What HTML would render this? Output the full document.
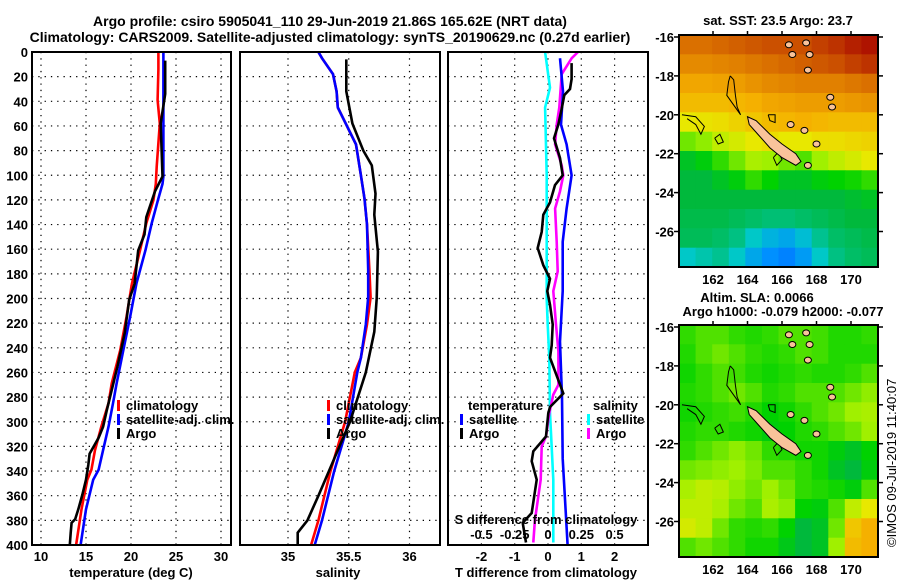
<!DOCTYPE html>
<html><head><meta charset="utf-8">
<style>
html,body{margin:0;padding:0;background:#fff;}
svg{display:block;font-family:"Liberation Sans",sans-serif;font-weight:bold;}
text{font-size:13px;fill:#000;}
</style></head>
<body>
<svg id="chart" width="900" height="580" viewBox="0 0 900 580" xmlns="http://www.w3.org/2000/svg">
<text x="330" y="26" text-anchor="middle" style="font-size:14px">Argo profile: csiro 5905041_110 29-Jun-2019 21.86S 165.62E (NRT data)</text>
<text x="330" y="42" text-anchor="middle" style="font-size:14px">Climatology: CARS2009. Satellite-adjusted climatology: synTS_20190629.nc (0.27d earlier)</text>
<text x="778" y="25" text-anchor="middle">sat. SST: 23.5 Argo: 23.7</text>
<text x="757" y="302" text-anchor="middle">Altim. SLA: 0.0066</text>
<text x="783" y="316" text-anchor="middle">Argo h1000: -0.079 h2000: -0.077</text>
<text transform="translate(896,547) rotate(-90)" style="font-weight:normal;font-size:13px">©IMOS 09-Jul-2019 11:40:07</text>
<g id="plots"></g>
</svg>
<script>
// depth grid shared by profiles (m)
const tDepths = [0,14,39,58,93,101,107,120,139,161,188,215,242,269,285,304,323,339,347,371,400];
const tClim   = [23.04,23.04,22.96,23.2,22.86,22.8,22.75,22.5,21.7,21.0,20.1,19.5,18.8,17.85,17.5,16.7,16.0,15.6,15.15,14.5,13.9];
const tSat    = [23.6,23.6,23.6,23.6,23.6,23.6,23.5,23.0,22.3,21.6,20.6,19.9,19.15,18.4,18.0,17.5,16.9,16.4,15.8,15.0,14.4];
const argoTDepths = [7,34,58,101,113,134,148,161,188,201,228,255,291,304,313,326,335,347,359,371,379,382,390,400];
const argoT       = [23.8,23.8,23.3,23.5,22.67,21.7,21.5,20.8,20.4,19.8,19.3,18.5,17.3,16.9,16.4,15.4,15.25,15.0,14.6,14.15,13.8,13.4,13.3,13.2];

const sDepths = [0,5,18,32,45,59,75,100,119,140,177,199,221,248,260,300,340,360,380,400];
const sClim   = [35.25,35.28,35.37,35.40,35.41,35.48,35.56,35.60,35.63,35.65,35.67,35.68,35.65,35.60,35.55,35.47,35.35,35.30,35.25,35.19];
const sSat    = [35.25,35.28,35.37,35.40,35.41,35.48,35.56,35.60,35.63,35.65,35.66,35.66,35.64,35.60,35.57,35.50,35.38,35.33,35.28,35.22];
const argoSDepths = [6,32,58,80,92,115,132,162,200,227,246,260,300,330,360,380,390,400];
const argoS       = [35.48,35.48,35.53,35.62,35.69,35.72,35.71,35.74,35.73,35.71,35.67,35.64,35.51,35.38,35.25,35.16,35.08,35.08];

const dTDepths = [5,32,59,75,100,127,154,194,235,280,330,400];
const dTSat    = [0.36,0.45,0.39,0.56,0.71,0.56,0.44,0.44,0.36,0.42,0.44,0.59];
const dTArgoDepths = [9,22,30,35,46,59,70,86,100,108,122,132,146,159,173,184,194,205,221,238,248,277,288,293,312,324,332,347,374,382,398];
const dTArgo = [0.71,0.71,0.66,0.49,0.41,0.31,0.18,0.36,0.44,0.21,0.06,-0.14,-0.19,-0.31,-0.14,0.06,-0.02,0.06,0.14,0.11,0.06,0.46,0.06,0.01,-0.06,-0.44,-0.49,-0.34,-0.49,-0.76,-0.66];
const dSDepths = [0,29,45,100,200,221,248,293,347,398];
const dSSat    = [-0.022,0.015,-0.022,-0.01,-0.01,-0.002,0.01,0.015,0.04,0.04];
const dSArgoDepths = [0,5,18,45,59,75,92,100,113,127,154,178,194,221,243,270,278,293,312,320,347,380,398];
const dSArgo = [0.225,0.178,0.103,0.085,0.065,0.053,0.103,0.115,0.09,0.053,0.065,0.073,0.04,0.06,0.078,0.078,0.04,0.01,-0.015,-0.047,-0.055,-0.098,-0.11];

const depthTicks = [0,20,40,60,80,100,120,140,160,180,200,220,240,260,280,300,320,340,360,380,400];
const tTicks = [10,15,20,25,30];
const sTicks = [35,35.5,36];
const dTTicks = [-2,-1,0,1,2];
const dSTickLabels = ['-0.5','-0.25','0','0.25','0.5'];
const dSTickValues = [-0.5,-0.25,0,0.25,0.5];
const latTicks = [-16,-18,-20,-22,-24,-26];
const lonTicks = [162,164,166,168,170];

// SST map (normalised colour value), rows from -16 southward, cols 160..171.5
const sstGrid = [
[.84,.84,.85,.86,.87,.88,.88,.88,.90,.92,.95,.97],
[.80,.80,.81,.82,.83,.84,.85,.86,.87,.88,.90,.92],
[.74,.74,.75,.76,.78,.80,.81,.82,.82,.82,.83,.84],
[.70,.70,.70,.71,.72,.74,.75,.76,.76,.76,.77,.78],
[.62,.63,.64,.66,.68,.70,.71,.72,.71,.70,.70,.70],
[.52,.54,.58,.60,.62,.64,.62,.62,.64,.64,.65,.66],
[.42,.44,.48,.52,.56,.55,.52,.50,.55,.58,.60,.62],
[.40,.40,.42,.44,.48,.45,.42,.42,.44,.45,.46,.48],
[.40,.40,.40,.40,.40,.40,.40,.40,.40,.40,.41,.42],
[.39,.39,.39,.38,.37,.36,.36,.37,.38,.39,.40,.40],
[.38,.38,.37,.35,.30,.26,.24,.28,.34,.37,.38,.39],
[.30,.32,.34,.30,.24,.20,.18,.22,.30,.35,.37,.38]];
const slaGrid = [
[.48,.50,.50,.48,.47,.48,.50,.50,.49,.47,.47,.48],
[.47,.50,.52,.50,.48,.47,.48,.50,.49,.47,.47,.47],
[.46,.48,.50,.49,.47,.46,.47,.48,.47,.47,.48,.50],
[.47,.48,.50,.52,.50,.47,.48,.50,.50,.50,.52,.54],
[.46,.47,.48,.49,.47,.45,.46,.48,.50,.52,.55,.56],
[.47,.48,.48,.47,.46,.44,.45,.47,.48,.50,.52,.55],
[.48,.50,.52,.54,.52,.48,.47,.46,.46,.44,.42,.45],
[.52,.53,.54,.55,.53,.50,.50,.48,.46,.42,.40,.44],
[.56,.58,.57,.54,.52,.55,.52,.48,.47,.46,.44,.50],
[.58,.58,.56,.52,.50,.56,.54,.45,.44,.50,.58,.62],
[.60,.58,.52,.48,.47,.48,.45,.40,.42,.52,.68,.72],
[.50,.52,.50,.48,.46,.46,.43,.40,.42,.55,.70,.72]];
const newCaledonia = [[164.0,-20.1],[164.5,-20.3],[165.3,-21.0],[166.0,-21.5],[166.8,-22.0],[167.1,-22.4],[166.8,-22.6],[166.0,-22.2],[165.3,-21.7],[164.6,-21.0],[164.1,-20.5]];
const islands = [[166.4,-16.4],[166.6,-16.9],[167.4,-16.3],[167.6,-16.9],[167.5,-17.7],[168.8,-19.1],[168.9,-19.6],[167.3,-20.8],[168.0,-21.5],[166.5,-20.5],[167.5,-22.6]];
const reefOutlines = [
 [[163.0,-18.0],[163.2,-18.2],[163.3,-19.0],[163.4,-19.6],[163.6,-20.0],[163.2,-19.5],[162.8,-19.0],[162.9,-18.3],[163.0,-18.0]],
 [[160.2,-20.0],[161.0,-20.1],[161.5,-20.6],[161.3,-21.0],[161.0,-20.5],[160.5,-20.2]],
 [[162.1,-21.2],[162.4,-21.0],[162.6,-21.4],[162.3,-21.5],[162.1,-21.2]],
 [[165.2,-20.0],[165.6,-20.0],[165.6,-20.4],[165.3,-20.3],[165.2,-20.0]],
 [[165.5,-22.2],[165.8,-21.9],[166.0,-22.3],[165.7,-22.6],[165.5,-22.2]]];

const NS='http://www.w3.org/2000/svg';
const root=document.getElementById('plots');
function el(tag,attrs,parent){const e=document.createElementNS(NS,tag);for(const k in attrs)e.setAttribute(k,attrs[k]);(parent||root).appendChild(e);return e;}
function txt(x,y,s,anchor,parent,size){const t=el('text',{x:x,y:y,'text-anchor':anchor||'middle'},parent);if(size)t.style.fontSize=size+'px';t.textContent=s;return t;}

const TOP=52,BOT=545;
const yD=d=>TOP+d*(BOT-TOP)/400;
const panels=[
 {name:'temperature',x0:32,x1:231,sx:v=>41+(v-10)*9},
 {name:'salinity',x0:240,x1:440,sx:v=>288+(v-35)*121.5},
 {name:'difference',x0:448,x1:648,sx:v=>548+v*33.3}];
const sxS=v=>548+v*133.2;

function frame(p){
  const g=el('g',{});
  
  
  depthTicks.forEach(d=>{const l=el('line',{x1:p.x0,x2:p.x1,y1:yD(d),y2:yD(d),stroke:'#000','stroke-width':1.2,'stroke-dasharray':'1.3,5'},g);
    });
  return g;
}
function vgrid(g,p,vals,sx){vals.forEach(v=>{const l=el('line',{x1:sx(v),x2:sx(v),y1:TOP,y2:BOT,stroke:'#000','stroke-width':1.2,'stroke-dasharray':'1.3,5'},g);
  });}
function border(g,p){const r=el('rect',{x:p.x0,y:TOP,width:p.x1-p.x0,height:BOT-TOP,fill:'none',stroke:'#000','stroke-width':2},g);
  }
function line(g,depths,vals,sx,color,name){
  const pts=vals.map((v,i)=>sx(v).toFixed(1)+','+yD(depths[i]).toFixed(1)).join(' ');
  const pl=el('polyline',{points:pts,fill:'none',stroke:color,'stroke-width':2.6},g);
  }
function legend(g,x,y,color,label){
  const b=el('rect',{x:x,y:y-10,width:3,height:11,fill:color},g);
  
  const t=txt(x+9,y,label,'start',g);
  }

// Panel 1
let p=panels[0],g=frame(p);
vgrid(g,p,tTicks,p.sx);
line(g,tDepths,tClim,p.sx,'#f00','temperature-climatology-line');
line(g,tDepths,tSat,p.sx,'#00f','temperature-satellite-line');
line(g,argoTDepths,argoT,p.sx,'#000','temperature-argo-line');
border(g,p);
depthTicks.forEach(d=>{const t=txt(28,yD(d)+5,String(d),'end',g);});
tTicks.forEach(v=>{const t=txt(p.sx(v),561,String(v),'middle',g);});
let at=txt(131,577,'temperature (deg C)','middle',g);
legend(g,117,410,'#f00','climatology');legend(g,117,424,'#00f','satellite-adj. clim.');legend(g,117,438,'#000','Argo');

// Panel 2
p=panels[1];g=frame(p);
vgrid(g,p,sTicks,p.sx);
line(g,sDepths,sClim,p.sx,'#f00','salinity-climatology-line');
line(g,sDepths,sSat,p.sx,'#00f','salinity-satellite-line');
line(g,argoSDepths,argoS,p.sx,'#000','salinity-argo-line');
border(g,p);
sTicks.forEach(v=>{const t=txt(p.sx(v),561,String(v),'middle',g);});
at=txt(338,577,'salinity','middle',g);
legend(g,327,410,'#f00','climatology');legend(g,327,424,'#00f','satellite-adj. clim.');legend(g,327,438,'#000','Argo');

// Panel 3
p=panels[2];g=frame(p);
vgrid(g,p,dTTicks,p.sx);
line(g,dSDepths,dSSat,sxS,'#0ff','salinity-diff-satellite-line');
line(g,dSArgoDepths,dSArgo,sxS,'#f0f','salinity-diff-argo-line');
line(g,dTDepths,dTSat,p.sx,'#00f','temperature-diff-satellite-line');
line(g,dTArgoDepths,dTArgo,p.sx,'#000','temperature-diff-argo-line');
border(g,p);
dTTicks.forEach(v=>{const t=txt(p.sx(v),561,String(v),'middle',g);});
dSTickValues.forEach((v,i)=>{const t=txt(sxS(v),539,dSTickLabels[i],'middle',g);});
at=txt(546,524,'S difference from climatology','middle',g);
at=txt(546,577,'T difference from climatology','middle',g);
at=txt(468,410,'temperature','start',g);
at=txt(593,410,'salinity','start',g);
legend(g,460,424,'#00f','satellite');legend(g,460,438,'#000','Argo');
legend(g,587,424,'#0ff','satellite');legend(g,587,438,'#f0f','Argo');

// colormap
const stops=[[0,[0,0,255]],[0.2,[0,144,255]],[0.3,[0,200,200]],[0.4,[0,185,60]],[0.45,[0,210,0]],[0.55,[160,240,0]],[0.62,[232,232,0]],[0.72,[245,176,0]],[0.82,[225,128,0]],[0.9,[195,64,0]],[1,[165,0,0]]];
function cmap(v){for(let i=1;i<stops.length;i++){if(v<=stops[i][0]){const a=stops[i-1],b=stops[i],f=(v-a[0])/(b[0]-a[0]);const c=a[1].map((x,k)=>Math.round(x+(b[1][k]-x)*f));return 'rgb('+c.join(',')+')';}}return 'rgb(165,0,0)';}

function drawMap(name,top,grid){
  const X0=679,X1=878,bottom=top+232;
  const lonX=lon=>713+(lon-162)*17.25;
  const latY=lat=>top+2+(-16-lat)*19.45;
  const mg=el('g',{});
  
  
  const cp=el('clipPath',{id:name+'-clip'},mg);el('rect',{x:X0,y:top,width:X1-X0,height:bottom-top},cp);
  const cells=el('g',{'clip-path':'url(#'+name+'-clip)'},mg);
  const rows=grid.length,cols=grid[0].length,cw=(X1-X0)/cols,ch=(bottom-top)/rows;
  grid.forEach((row,r)=>row.forEach((v,c)=>{
    const rc=el('rect',{x:(X0+c*cw).toFixed(1),y:(top+r*ch).toFixed(1),width:(cw+0.6).toFixed(1),height:(ch+0.6).toFixed(1),fill:cmap(v)},cells);
    
    
  }));
  reefOutlines.forEach(o=>{const pl=el('polyline',{points:o.map(q=>lonX(q[0])+','+latY(q[1])).join(' '),fill:'none',stroke:'#000','stroke-width':1},cells);
    });
  const nc=el('polygon',{points:newCaledonia.map(q=>lonX(q[0])+','+latY(q[1])).join(' '),fill:'#f9c39a',stroke:'#000','stroke-width':1},cells);
  
  islands.forEach(q=>{const e=el('ellipse',{cx:lonX(q[0]),cy:latY(q[1]),rx:3.5,ry:3,fill:'#f9c39a',stroke:'#000','stroke-width':1},cells);
    });
  const fr=el('rect',{x:X0,y:top,width:X1-X0,height:bottom-top,fill:'none',stroke:'#000','stroke-width':2},mg);
  
  latTicks.forEach(l=>{const y=latY(l);el('line',{x1:X0-5,x2:X0,y1:y,y2:y,stroke:'#000','stroke-width':1.5},mg);el('line',{x1:X1,x2:X1+5,y1:y,y2:y,stroke:'#000','stroke-width':1.5},mg);
    const t=txt(X0-5,y+5,String(l),'end',mg);});
  lonTicks.forEach(l=>{const x=lonX(l);el('line',{x1:x,x2:x,y1:top-4,y2:top,stroke:'#000','stroke-width':1.5},mg);
    const t=txt(x,bottom+17,String(l),'middle',mg);});
}
drawMap('sst-map',35,sstGrid);
drawMap('sla-map',325,slaGrid);
</script>
</body></html>
